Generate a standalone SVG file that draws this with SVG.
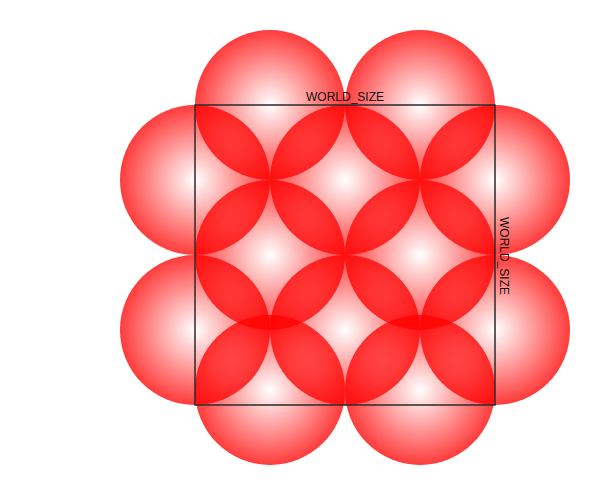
<svg xmlns="http://www.w3.org/2000/svg" width="590" height="485" viewBox="0 0 590 485">
<defs>
<radialGradient id="g">
<stop offset="0" stop-color="#ff0000" stop-opacity="0"/>
<stop offset="1" stop-color="#ff0000" stop-opacity="0.77"/>
</radialGradient>
<style>
.c{fill:url(#g)}
.b{fill:none;stroke:#2a2a2a;stroke-width:1.5}
.t{font-family:"Liberation Sans",Arial,sans-serif;font-size:12px;fill:#111}
</style>
</defs>
<rect width="590" height="485" fill="#fff"/>
<g id="circles">
<circle class="c" cx="270" cy="105" r="75"/>
<circle class="c" cx="420" cy="105" r="75"/>
<circle class="c" cx="195" cy="180" r="75"/>
<circle class="c" cx="345" cy="180" r="75"/>
<circle class="c" cx="495" cy="180" r="75"/>
<circle class="c" cx="270" cy="255" r="75"/>
<circle class="c" cx="420" cy="255" r="75"/>
<circle class="c" cx="195" cy="330" r="75"/>
<circle class="c" cx="345" cy="330" r="75"/>
<circle class="c" cx="495" cy="330" r="75"/>
<circle class="c" cx="270" cy="390" r="75"/>
<circle class="c" cx="420" cy="390" r="75"/>
</g>
<g id="world">
<rect class="b" x="195" y="105" width="300" height="300"/>
<text class="t" x="345" y="100.5" text-anchor="middle">WORLD_SIZE</text>
<text class="t" x="0" y="0" text-anchor="middle" transform="translate(499.5,256) rotate(90)">WORLD_SIZE</text>
</g>
</svg>
